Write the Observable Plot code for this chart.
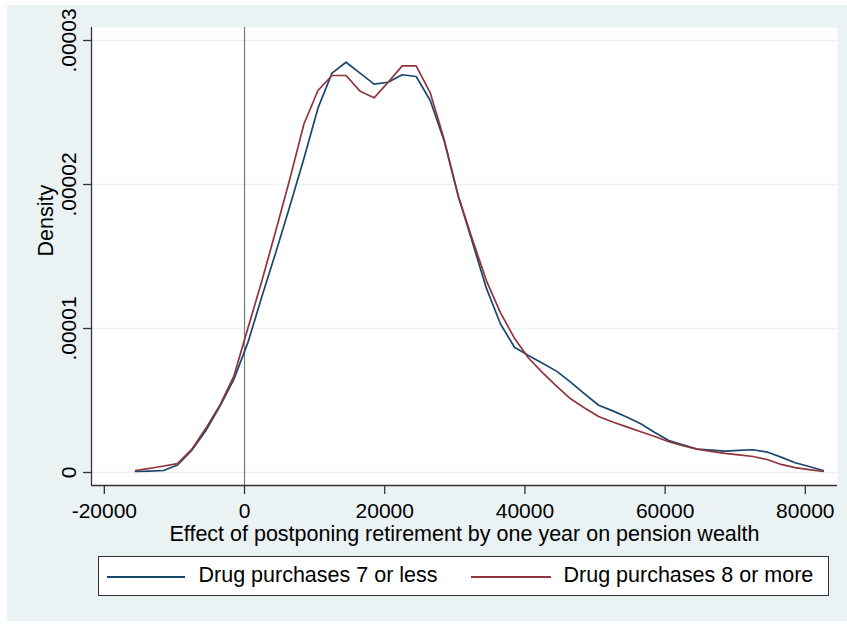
<!DOCTYPE html>
<html><head><meta charset="utf-8">
<script src="https://cdn.jsdelivr.net/npm/d3@7"></script>
<script src="https://cdn.jsdelivr.net/npm/@observablehq/plot@0.6"></script>
<style>
body{margin:0;background:#fff;font-family:"Liberation Sans",Arial,sans-serif;}
#wrap{position:relative;width:847px;height:624px;overflow:hidden;background:#fff;}
#bg{position:absolute;left:7px;top:5px;width:840px;height:616px;background:#eaf2f3;}
#chart{position:absolute;left:0;top:0;}
#legend{position:absolute;left:98px;top:556px;width:729px;height:38px;background:#fff;border:1.5px solid #333;}
#legend .sw{position:absolute;height:1.7px;top:19.2px;}
#legend .lt{position:absolute;top:8.3px;font-size:21.5px;line-height:21.5px;color:#000;white-space:nowrap;}
</style></head>
<body>
<div id="wrap"><div id="bg"></div><div id="chart"></div>
<div id="legend">
  <div class="sw" style="left:7.5px;width:78px;background:#1a476f"></div>
  <div class="lt" id="l1" style="left:99.5px"></div>
  <div class="sw" style="left:371.5px;width:80px;background:#90353b"></div>
  <div class="lt" id="l2" style="left:464.5px"></div>
</div>
</div>
<script>
// Kernel density evaluation points (effect on pension wealth)
const xGrid = [-15550,-13548,-11546,-9544,-7542,-5540,-3538,-1536,466,2468,4470,6472,8474,10476,12478,14480,16482,18484,20486,22488,24490,26492,28494,30496,32498,34500,36502,38504,40506,42508,44510,46512,48514,50516,52518,54520,56522,58524,60526,62528,64530,66532,68534,70536,72538,74540,76542,78544,80546,82548];
// Density, Drug purchases 7 or less
const densityLow = [0.007e-5,0.010e-5,0.014e-5,0.052e-5,0.153e-5,0.29e-5,0.458e-5,0.645e-5,0.90e-5,1.22e-5,1.53e-5,1.85e-5,2.18e-5,2.53e-5,2.773e-5,2.849e-5,2.773e-5,2.697e-5,2.710e-5,2.762e-5,2.75e-5,2.583e-5,2.30e-5,1.917e-5,1.60e-5,1.28e-5,1.033e-5,0.87e-5,0.813e-5,0.759e-5,0.704e-5,0.628e-5,0.546e-5,0.467e-5,0.428e-5,0.386e-5,0.338e-5,0.278e-5,0.222e-5,0.192e-5,0.163e-5,0.156e-5,0.149e-5,0.153e-5,0.158e-5,0.142e-5,0.107e-5,0.068e-5,0.042e-5,0.014e-5];
// Density, Drug purchases 8 or more
const densityHigh = [0.014e-5,0.028e-5,0.045e-5,0.062e-5,0.16e-5,0.305e-5,0.465e-5,0.667e-5,1.0e-5,1.33e-5,1.68e-5,2.04e-5,2.42e-5,2.653e-5,2.757e-5,2.757e-5,2.648e-5,2.602e-5,2.71e-5,2.824e-5,2.824e-5,2.637e-5,2.31e-5,1.92e-5,1.62e-5,1.333e-5,1.11e-5,0.933e-5,0.795e-5,0.694e-5,0.60e-5,0.512e-5,0.448e-5,0.389e-5,0.351e-5,0.317e-5,0.283e-5,0.25e-5,0.214e-5,0.186e-5,0.1625e-5,0.147e-5,0.133e-5,0.122e-5,0.111e-5,0.090e-5,0.056e-5,0.034e-5,0.020e-5,0.007e-5];
const seriesNames = ["Drug purchases 7 or less","Drug purchases 8 or more"];
const seriesColors = ["#1a476f","#90353b"];
const yTicks = [0,1e-5,2e-5,3e-5];
const yTickLabels = ["0",".00001",".00002",".00003"];
const xTicks = [-20000,0,20000,40000,60000,80000];
const xTitle = "Effect of postponing retirement by one year on pension wealth";
const yTitle = "Density";

const low = xGrid.map((x,i)=>({x, y: densityLow[i]}));
const high = xGrid.map((x,i)=>({x, y: densityHigh[i]}));
const xDom = [-21830, 84590];
const yDom = [-0.903e-6, 3.0903e-5];

const chart = Plot.plot({
  width: 847, height: 545,
  marginLeft: 91, marginRight: 10, marginTop: 27, marginBottom: 60,
  style: {background: "transparent", fontFamily: "Liberation Sans, Arial, sans-serif", color: "#000", overflow: "visible"},
  x: {domain: xDom},
  y: {domain: yDom},
  marks: [
    Plot.frame({fill: "white", stroke: "none"}),
    Plot.gridY(yTicks, {stroke: "#eaf2f3", strokeOpacity: 1, strokeWidth: 1.5}),
    Plot.ruleX([0], {stroke: "#7a7a7a", strokeWidth: 1.2}),
    Plot.line(low, {x: "x", y: "y", stroke: seriesColors[0], strokeWidth: 1.7}),
    Plot.line(high, {x: "x", y: "y", stroke: seriesColors[1], strokeWidth: 1.7}),
    Plot.axisY({ticks: yTicks, tickFormat: d => yTickLabels[yTicks.indexOf(d)], tickSize: 8, tickPadding: 8, tickRotate: -90, fontSize: 21, stroke: "#333", strokeWidth: 1.3, label: null}),
    Plot.axisX({ticks: xTicks, tickFormat: d => String(d), tickSize: 9, tickPadding: 9, fontSize: 21, stroke: "#333", strokeWidth: 1.3, label: null}),
    Plot.ruleX([xDom[0]], {stroke: "#333", strokeWidth: 1.3}),
    Plot.ruleY([yDom[0]], {stroke: "#333", strokeWidth: 1.3}),
    Plot.text([xTitle], {frameAnchor: "bottom", dy: 55, lineAnchor: "bottom", fontSize: 21.5, fill: "#000"}),
    Plot.text([yTitle], {frameAnchor: "left", dx: -39, rotate: -90, lineAnchor: "bottom", fontSize: 21.5, fill: "#000"})
  ]
});
document.getElementById("chart").appendChild(chart);
document.getElementById("l1").textContent = seriesNames[0];
document.getElementById("l2").textContent = seriesNames[1];
</script>
</body></html>
